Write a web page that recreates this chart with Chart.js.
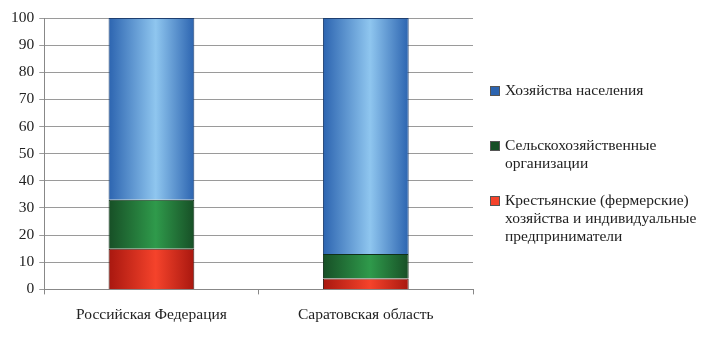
<!DOCTYPE html>
<html>
<head>
<meta charset="utf-8">
<script src="https://cdn.jsdelivr.net/npm/chart.js@4/dist/chart.umd.min.js"></script>
<style>
  html, body { margin: 0; padding: 0; background: #fff; }
  #wrap { position: relative; width: 709px; height: 337px; }
  #legend { position: absolute; left: 490px; top: 0; font-family: "Liberation Serif", "DejaVu Serif", serif; font-size: 15.5px; color: #222; }
  .item { position: absolute; left: 0; width: 215px; line-height: 18px; padding-left: 15px; }
  .sw { position: absolute; left: 0; top: 5px; width: 8px; height: 8px; border: 1px solid #555; }
</style>
</head>
<body>
<div id="wrap">
  <canvas id="main" width="709" height="337"></canvas>
  <div id="legend"></div>
</div>
<script>
const categories = ['Российская Федерация', 'Саратовская область']
const farmers = [15, 4]
const agriOrgs = [18, 9]
const households = [67, 87]
const yTicks = [0, 10, 20, 30, 40, 50, 60, 70, 80, 90, 100]

const legendNames = [
    'Хозяйства населения',
    'Сельскохозяйственные организации',
    'Крестьянские (фермерские) хозяйства и индивидуальные предприниматели'
]
const legendTops = [81, 136, 191]

// edge colour, centre colour
const palette = {
    red: ['#a8170f', '#f5432b'],
    green: ['#174f26', '#2f9a4b'],
    blue: ['#2c64b0', '#8fc6ef']
}

function barGradient(cols) {
    return function(context) {
        const chart = context.chart
        if (!chart.chartArea) return cols[1]
        const xs = chart.scales.x
        const cx = xs.getPixelForValue(context.dataIndex)
        const half = (xs.width / categories.length) * 0.4 / 2
        const g = chart.ctx.createLinearGradient(cx - half, 0, cx + half, 0)
        g.addColorStop(0, cols[0])
        g.addColorStop(0.55, cols[1])
        g.addColorStop(1, cols[0])
        return g
    }
}

const canvas = document.querySelector('#main')
const ctx = canvas.getContext('2d')

let chart = new Chart(ctx, {
    type: 'bar',
    data: {
        labels: categories,
        datasets: [{
            label: legendNames[2],
            data: farmers,
            backgroundColor: barGradient(palette.red),
            borderColor: '#3a1a14',
            borderWidth: 1
        }, {
            label: legendNames[1],
            data: agriOrgs,
            backgroundColor: barGradient(palette.green),
            borderColor: '#10301a',
            borderWidth: 1
        }, {
            label: legendNames[0],
            data: households,
            backgroundColor: barGradient(palette.blue),
            borderColor: '#1e3f70',
            borderWidth: 1
        }]
    },
    options: {
        responsive: false,
        animation: false,
        barPercentage: 0.4,
        categoryPercentage: 1,
        layout: { padding: { left: 6, right: 236, top: 18, bottom: 2 } },
        plugins: { legend: { display: false }, tooltip: { enabled: false } },
        scales: {
            x: {
                stacked: true,
                grid: { offset: true, drawOnChartArea: false, color: '#888', tickLength: 5 },
                border: { color: '#888' },
                ticks: {
                    color: '#222',
                    padding: 11,
                    font: { family: '"Liberation Serif", serif', size: 15.5 }
                }
            },
            y: {
                stacked: true,
                min: 0,
                max: 100,
                afterBuildTicks: axis => { axis.ticks = yTicks.map(v => ({ value: v })) },
                grid: { color: '#9a9a9a', tickLength: 5 },
                border: { color: '#888' },
                ticks: {
                    color: '#222',
                    padding: 5,
                    font: { family: '"Liberation Serif", serif', size: 15.5 }
                }
            }
        }
    }
})

const legend = document.querySelector('#legend')
const swatchColors = [palette.blue[0], palette.green[0], palette.red[1]]
legendNames.forEach((name, i) => {
    const item = document.createElement('div')
    item.className = 'item'
    item.style.top = legendTops[i] + 'px'
    item.innerHTML = '<span class="sw" style="background:' + swatchColors[i] + '"></span>' + name
    legend.appendChild(item)
})
</script>
</body>
</html>
